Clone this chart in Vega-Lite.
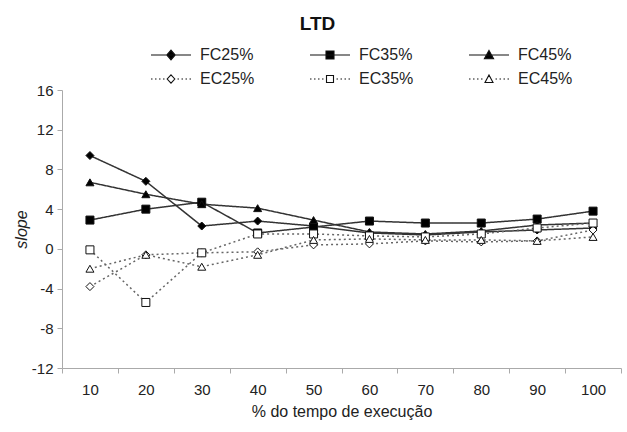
{
  "$schema": "https://vega.github.io/schema/vega-lite/v6.json",
  "width": 559,
  "height": 278,
  "autosize": {"type": "none"},
  "padding": {"left": 62, "top": 90, "right": 6, "bottom": 64},
  "background": "white",
  "title": {"text": "LTD", "font": "Liberation Sans", "fontSize": 19, "fontWeight": "bold", "color": "#111", "anchor": "middle", "dx": -24, "offset": 10},
  "config": {
    "view": {"stroke": null},
    "font": "Liberation Sans",
    "axis": {"labelFont": "Liberation Sans", "titleFont": "Liberation Sans", "labelColor": "#222", "titleColor": "#222", "domainColor": "#aaa", "tickColor": "#aaa", "grid": false, "titleFontWeight": "normal", "labelFontSize": 15, "titleFontSize": 16, "tickSize": 5}
  },
  "data": {"values": [
    {"x": 10, "series": "FC25%", "y": 9.4}, {"x": 20, "series": "FC25%", "y": 6.8}, {"x": 30, "series": "FC25%", "y": 2.3}, {"x": 40, "series": "FC25%", "y": 2.8}, {"x": 50, "series": "FC25%", "y": 2.3}, {"x": 60, "series": "FC25%", "y": 1.6}, {"x": 70, "series": "FC25%", "y": 1.4}, {"x": 80, "series": "FC25%", "y": 1.7}, {"x": 90, "series": "FC25%", "y": 1.9}, {"x": 100, "series": "FC25%", "y": 2.1},
    {"x": 10, "series": "FC35%", "y": 2.9}, {"x": 20, "series": "FC35%", "y": 4.0}, {"x": 30, "series": "FC35%", "y": 4.7}, {"x": 40, "series": "FC35%", "y": 1.6}, {"x": 50, "series": "FC35%", "y": 2.2}, {"x": 60, "series": "FC35%", "y": 2.8}, {"x": 70, "series": "FC35%", "y": 2.6}, {"x": 80, "series": "FC35%", "y": 2.6}, {"x": 90, "series": "FC35%", "y": 3.0}, {"x": 100, "series": "FC35%", "y": 3.8},
    {"x": 10, "series": "FC45%", "y": 6.7}, {"x": 20, "series": "FC45%", "y": 5.5}, {"x": 30, "series": "FC45%", "y": 4.5}, {"x": 40, "series": "FC45%", "y": 4.1}, {"x": 50, "series": "FC45%", "y": 2.9}, {"x": 60, "series": "FC45%", "y": 1.7}, {"x": 70, "series": "FC45%", "y": 1.5}, {"x": 80, "series": "FC45%", "y": 1.8}, {"x": 90, "series": "FC45%", "y": 2.4}, {"x": 100, "series": "FC45%", "y": 2.6},
    {"x": 10, "series": "EC25%", "y": -3.8}, {"x": 20, "series": "EC25%", "y": -0.6}, {"x": 30, "series": "EC25%", "y": -0.4}, {"x": 40, "series": "EC25%", "y": -0.3}, {"x": 50, "series": "EC25%", "y": 0.4}, {"x": 60, "series": "EC25%", "y": 0.5}, {"x": 70, "series": "EC25%", "y": 0.8}, {"x": 80, "series": "EC25%", "y": 0.7}, {"x": 90, "series": "EC25%", "y": 0.8}, {"x": 100, "series": "EC25%", "y": 1.9},
    {"x": 10, "series": "EC35%", "y": -0.1}, {"x": 20, "series": "EC35%", "y": -5.4}, {"x": 30, "series": "EC35%", "y": -0.4}, {"x": 40, "series": "EC35%", "y": 1.5}, {"x": 50, "series": "EC35%", "y": 1.5}, {"x": 60, "series": "EC35%", "y": 1.3}, {"x": 70, "series": "EC35%", "y": 1.2}, {"x": 80, "series": "EC35%", "y": 1.5}, {"x": 90, "series": "EC35%", "y": 2.1}, {"x": 100, "series": "EC35%", "y": 2.6},
    {"x": 10, "series": "EC45%", "y": -2.0}, {"x": 20, "series": "EC45%", "y": -0.6}, {"x": 30, "series": "EC45%", "y": -1.8}, {"x": 40, "series": "EC45%", "y": -0.6}, {"x": 50, "series": "EC45%", "y": 0.9}, {"x": 60, "series": "EC45%", "y": 1.0}, {"x": 70, "series": "EC45%", "y": 0.9}, {"x": 80, "series": "EC45%", "y": 0.9}, {"x": 90, "series": "EC45%", "y": 0.8}, {"x": 100, "series": "EC45%", "y": 1.2}
  ]},
  "encoding": {
    "x": {"field": "x", "type": "ordinal", "scale": {"paddingInner": 0, "paddingOuter": 0},
      "axis": {"title": "% do tempo de execução", "labelAngle": 0, "tickBand": "extent", "labelPadding": 9, "titlePadding": 6}},
    "y": {"field": "y", "type": "quantitative", "scale": {"domain": [-12, 16], "nice": false, "zero": false},
      "axis": {"title": "slope", "titleFontStyle": "italic", "values": [-12, -8, -4, 0, 4, 8, 12, 16], "labelExpr": "replace(datum.label, '−', '-')", "labelPadding": 4, "titlePadding": 2}}
  },
  "layer": [
    {
      "mark": {"type": "line"},
      "encoding": {
        "detail": {"field": "series"},
        "stroke": {"field": "series", "type": "nominal", "legend": null,
          "scale": {"domain": ["FC25%", "FC35%", "FC45%", "EC25%", "EC35%", "EC45%"], "range": ["#333", "#333", "#333", "#666", "#666", "#666"]}},
        "strokeWidth": {"field": "series", "type": "nominal", "legend": null,
          "scale": {"domain": ["FC25%", "FC35%", "FC45%", "EC25%", "EC35%", "EC45%"], "range": [1.5, 1.5, 1.5, 2, 2, 2]}},
        "strokeDash": {"field": "series", "type": "nominal", "legend": null,
          "scale": {"domain": ["FC25%", "FC35%", "FC45%", "EC25%", "EC35%", "EC45%"], "range": [[1, 0], [1, 0], [1, 0], [2, 3], [2, 3], [2, 3]]}}
      }
    },
    {
      "mark": {"type": "point", "filled": true, "stroke": "#111", "strokeWidth": 1, "opacity": 1, "size": 64},
      "encoding": {
        "shape": {"field": "series", "type": "nominal", "legend": null,
          "scale": {"domain": ["FC25%", "FC35%", "FC45%", "EC25%", "EC35%", "EC45%"], "range": ["diamond", "square", "triangle-up", "diamond", "square", "triangle-up"]}},
        "fill": {"field": "series", "type": "nominal", "legend": null,
          "scale": {"domain": ["FC25%", "FC35%", "FC45%", "EC25%", "EC35%", "EC45%"], "range": ["#000", "#000", "#000", "#fff", "#fff", "#fff"]}}
      }
    },
    {
      "mark": {"type": "point", "filled": true, "stroke": "#111", "strokeWidth": 1, "opacity": 0},
      "encoding": {
        "shape": {"field": "series", "type": "nominal",
          "scale": {"domain": ["FC25%", "FC35%", "FC45%", "EC25%", "EC35%", "EC45%"], "range": [
            "M-2,0H2M0,-0.48L0.42,0L0,0.48L-0.42,0Z",
            "M-2,0H2M-0.4,-0.4H0.4V0.4H-0.4Z",
            "M-2,0H2M0,-0.45L0.46,0.38H-0.46Z",
            "M-2,0h0.15M-1.6,0h0.15M-1.2,0h0.15M-0.8,0h0.15M0.65,0h0.15M1.05,0h0.15M1.45,0h0.15M1.85,0h0.15M0,-0.42L0.38,0L0,0.42L-0.38,0Z",
            "M-2,0h0.15M-1.6,0h0.15M-1.2,0h0.15M-0.8,0h0.15M0.65,0h0.15M1.05,0h0.15M1.45,0h0.15M1.85,0h0.15M-0.35,-0.35H0.35V0.35H-0.35Z",
            "M-2,0h0.15M-1.6,0h0.15M-1.2,0h0.15M-0.8,0h0.15M0.65,0h0.15M1.05,0h0.15M1.45,0h0.15M1.85,0h0.15M0,-0.4L0.4,0.35H-0.4Z"
          ]},
          "legend": {"title": null, "orient": "none", "legendX": 98, "legendY": -46, "columns": 3, "direction": "horizontal", "padding": 0,
            "symbolSize": 400, "symbolOpacity": 1, "symbolStrokeColor": "#111", "symbolStrokeWidth": 1.1,
            "labelFont": "Liberation Sans", "labelFontSize": 16, "labelColor": "#222", "labelOffset": 18, "columnPadding": 52, "rowPadding": 5, "labelLimit": 200,
            "encode": {"symbols": {"update": {"stroke": {"value": "#111"}, "strokeWidth": {"value": 1.1}, "opacity": {"value": 1}}}}}},
        "fill": {"field": "series", "type": "nominal",
          "scale": {"domain": ["FC25%", "FC35%", "FC45%", "EC25%", "EC35%", "EC45%"], "range": ["#000", "#000", "#000", "#fff", "#fff", "#fff"]},
          "legend": {"title": null, "orient": "none", "legendX": 98, "legendY": -46, "columns": 3, "direction": "horizontal", "padding": 0,
            "symbolSize": 400, "symbolOpacity": 1, "symbolStrokeColor": "#111", "symbolStrokeWidth": 1.1,
            "labelFont": "Liberation Sans", "labelFontSize": 16, "labelColor": "#222", "labelOffset": 18, "columnPadding": 52, "rowPadding": 5, "labelLimit": 200,
            "encode": {"symbols": {"update": {"stroke": {"value": "#111"}, "strokeWidth": {"value": 1.1}, "opacity": {"value": 1}}}}}}
      }
    }
  ],
  "resolve": {"scale": {"shape": "independent", "fill": "independent"}}
}
